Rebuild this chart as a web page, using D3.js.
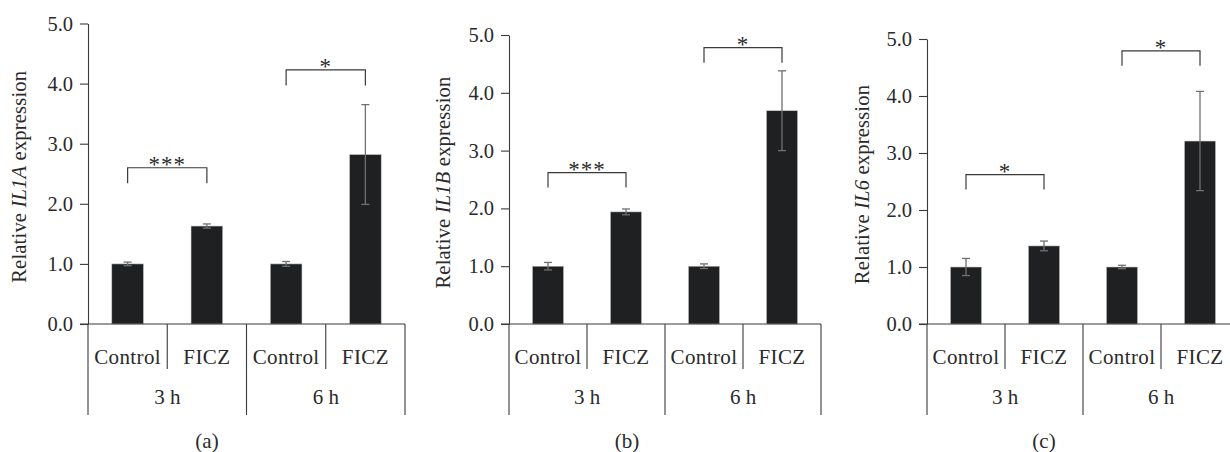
<!DOCTYPE html>
<html>
<head>
<meta charset="utf-8">
<script src="https://cdn.jsdelivr.net/npm/d3@7.9.0/dist/d3.min.js"></script>
<style>
  body { margin: 0; background: #fff; }
  svg text { font-family: "Liberation Serif", "Times New Roman", serif; fill: #2a2a2a; }
</style>
</head>
<body>
<div id="chart"></div>
<script>
// data
const timepoints = ['3 h', '6 h'];
const treatments = ['Control', 'FICZ'];
const yTicks = [0, 1, 2, 3, 4, 5];

const il1aMean = [1.0, 1.63, 1.0, 2.82];
const il1aErr = [0.03, 0.035, 0.04, 0.83];
const il1bMean = [1.0, 1.94, 1.0, 3.69];
const il1bErr = [0.065, 0.05, 0.04, 0.69];
const il6Mean = [1.0, 1.37, 1.0, 3.21];
const il6Err = [0.15, 0.085, 0.03, 0.87];

const il1aSig = ['***', '*'];
const il1bSig = ['***', '*'];
const il6Sig = ['*', '*'];
const il1aBracket = [2.6, 4.23];
const il1bBracket = [2.62, 4.78];
const il6Bracket = [2.62, 4.79];

const genes = ['IL1A', 'IL1B', 'IL6'];
const panelLetters = ['(a)', '(b)', '(c)'];

// layout per panel
const panels = [
  { gene: genes[0], letter: panelLetters[0], mean: il1aMean, err: il1aErr, sig: il1aSig, bracket: il1aBracket,
    x0: 88, x1: 405, yTop: 23.5, labelX: 19, letterX: 207 },
  { gene: genes[1], letter: panelLetters[1], mean: il1bMean, err: il1bErr, sig: il1bSig, bracket: il1bBracket,
    x0: 509, x1: 821, yTop: 35, labelX: 443, letterX: 627 },
  { gene: genes[2], letter: panelLetters[2], mean: il6Mean, err: il6Err, sig: il6Sig, bracket: il6Bracket,
    x0: 927, x1: 1239, yTop: 39, labelX: 862, letterX: 1044 },
];

const W = 1230, H = 452;
const y0 = 324;
const innerBottom = 369, outerBottom = 415;
const lineColor = '#3a3a3a';

const svg = d3.select('#chart').append('svg')
  .attr('width', W).attr('height', H)
  .attr('viewBox', `0 0 ${W} ${H}`);

panels.forEach(p => {
  const g = svg.append('g');

  const keys = [];
  timepoints.forEach(t => treatments.forEach(tr => keys.push(t + '|' + tr)));

  const x = d3.scaleBand().domain(keys).range([p.x0, p.x1]).padding(0);
  const y = d3.scaleLinear().domain([0, 5]).range([y0, p.yTop]);
  const bw = x.bandwidth() * 0.4;
  const cx = k => x(k) + x.bandwidth() / 2;

  // y axis
  const axis = g.append('g')
    .attr('transform', `translate(${p.x0},0)`)
    .call(d3.axisLeft(y).tickValues(yTicks).tickFormat(d3.format('.1f')).tickSize(8).tickSizeOuter(0).tickPadding(7));
  axis.select('.domain').attr('stroke', lineColor).attr('stroke-width', 1.1);
  axis.selectAll('.tick line').attr('stroke', lineColor).attr('stroke-width', 1.1);
  axis.selectAll('.tick text')
    .attr('font-size', 20.5)
    .attr('fill', '#2a2a2a');

  // bars
  const rows = keys.map((k, i) => ({ key: k, mean: p.mean[i], err: p.err[i] }));
  g.selectAll('rect.bar').data(rows).join('rect')
    .attr('class', 'bar')
    .attr('x', d => cx(d.key) - bw / 2)
    .attr('width', bw)
    .attr('y', d => y(d.mean))
    .attr('height', d => y0 - y(d.mean))
    .attr('fill', '#1f2022')
    .attr('stroke', '#c8c8c8')
    .attr('stroke-width', 0.6);

  // error bars
  const eb = g.selectAll('g.err').data(rows).join('g').attr('class', 'err')
    .attr('stroke', '#707070').attr('stroke-width', 1.3);
  eb.append('line')
    .attr('x1', d => cx(d.key)).attr('x2', d => cx(d.key))
    .attr('y1', d => y(d.mean + d.err)).attr('y2', d => y(d.mean - d.err));
  eb.append('line')
    .attr('x1', d => cx(d.key) - 4).attr('x2', d => cx(d.key) + 4)
    .attr('y1', d => y(d.mean + d.err)).attr('y2', d => y(d.mean + d.err));
  eb.append('line')
    .attr('x1', d => cx(d.key) - 4).attr('x2', d => cx(d.key) + 4)
    .attr('y1', d => y(d.mean - d.err)).attr('y2', d => y(d.mean - d.err));

  // baseline
  g.append('line')
    .attr('x1', p.x0 - 8).attr('x2', Math.min(p.x1, W))
    .attr('y1', y0).attr('y2', y0)
    .attr('stroke', lineColor).attr('stroke-width', 1.2);

  // category dividers
  const bounds = [p.x0];
  keys.forEach(k => bounds.push(x(k) + x.bandwidth()));
  bounds.forEach((bx, i) => {
    g.append('line')
      .attr('x1', bx).attr('x2', bx)
      .attr('y1', y0).attr('y2', i % 2 === 0 ? outerBottom : innerBottom)
      .attr('stroke', lineColor).attr('stroke-width', 1.1);
  });

  // treatment labels
  g.selectAll('text.trt').data(rows).join('text')
    .attr('class', 'trt')
    .attr('x', d => cx(d.key))
    .attr('y', 364)
    .attr('text-anchor', 'middle')
    .attr('font-size', 21)
    .attr('letter-spacing', 0.4)
    .text(d => d.key.split('|')[1]);

  // timepoint labels
  timepoints.forEach((t, i) => {
    const a = x(t + '|' + treatments[0]);
    const b = x(t + '|' + treatments[1]) + x.bandwidth();
    g.append('text')
      .attr('x', (a + b) / 2)
      .attr('y', 404)
      .attr('text-anchor', 'middle')
      .attr('font-size', 21)
      .text(t);

    // significance bracket
    const xa = cx(t + '|' + treatments[0]);
    const xb = cx(t + '|' + treatments[1]);
    const top = y(p.bracket[i]);
    const leg = y(p.bracket[i] - 0.26);
    g.append('path')
      .attr('d', `M${xa},${leg}V${top}H${xb}V${leg}`)
      .attr('fill', 'none')
      .attr('stroke', lineColor)
      .attr('stroke-width', 1.2);
    g.append('text')
      .attr('x', (xa + xb) / 2)
      .attr('y', top + 4)
      .attr('text-anchor', 'middle')
      .attr('font-size', 23)
      .attr('letter-spacing', 1)
      .text(p.sig[i]);
  });

  // y label
  const midY = (y0 + p.yTop) / 2 + 3;
  const lab = g.append('text')
    .attr('transform', `translate(${p.labelX},${midY}) rotate(-90)`)
    .attr('text-anchor', 'middle')
    .attr('dominant-baseline', 'central')
    .attr('font-size', 20.5)
    .attr('letter-spacing', 0.2);
  lab.append('tspan').text('Relative ');
  lab.append('tspan').attr('font-style', 'italic').text(p.gene);
  lab.append('tspan').text(' expression');

  // panel letter
  g.append('text')
    .attr('x', p.letterX)
    .attr('y', 448)
    .attr('text-anchor', 'middle')
    .attr('font-size', 21)
    .text(p.letter);
});
</script>
</body>
</html>
